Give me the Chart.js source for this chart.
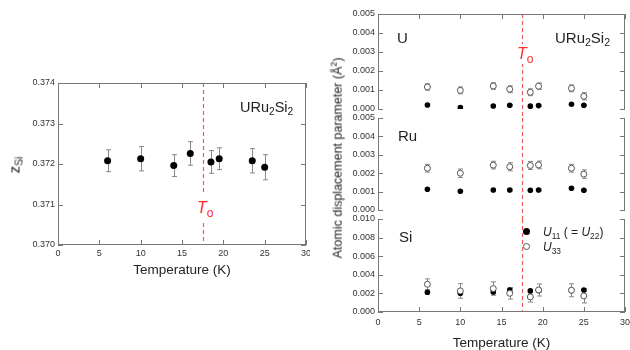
<!DOCTYPE html>
<html lang="en">
<head>
<meta charset="UTF-8">
<title>URu2Si2 structure vs temperature</title>
<script src="https://cdn.jsdelivr.net/npm/chart.js@4.4.0/dist/chart.umd.min.js"></script>
<style>
    body{
        margin: 0;
        padding: 0;
        background: #fff;
        font-family: 'Liberation Sans', Arial, sans-serif;
    }
    #wrap{
        position: relative;
        width: 630px;
        height: 350px;
        overflow: hidden;
    }
    canvas{
        position: absolute;
        top: 0;
    }
    .lbl{
        position: absolute;
        white-space: nowrap;
        color: #222;
        line-height: 1;
    }
    .lbl sub{
        font-size: 70%;
        vertical-align: -0.3em;
        line-height: 0;
    }
    .rot{
        transform: translate(-50%, -50%) rotate(-90deg);
    }
    .to{
        color: #ff2a2a;
        background: #fff;
        font-size: 16px;
        box-sizing: border-box;
    }
    .to sub{
        font-size: 75%;
    }
    .dot{
        position: absolute;
        width: 7px;
        height: 7px;
        border-radius: 50%;
        box-sizing: border-box;
    }
</style>
</head>
<body>
<div id="wrap">
    <canvas id="cL" width="310" height="350" style="left:0"></canvas>
    <canvas id="cU" width="310" height="350" style="left:320px"></canvas>
    <canvas id="cRu" width="310" height="350" style="left:320px"></canvas>
    <canvas id="cSi" width="310" height="350" style="left:320px"></canvas>

    <!-- left panel text -->
    <div class="lbl rot" style="left:14px;top:165px;font-size:15px">z<sub>Si</sub></div>
    <div class="lbl" style="left:240px;top:100px;font-size:14.5px">URu<sub>2</sub>Si<sub>2</sub></div>
    <div class="lbl to" style="left:189px;top:192px;width:30px;height:28px;padding:8px 0 0 8px"><i>T</i><sub>o</sub></div>

    <!-- right panel text -->
    <div class="lbl rot" style="left:337px;top:158px;font-size:12.5px">Atomic displacement parameter (Å<sup style="font-size:70%">2</sup>)</div>
    <div class="lbl" style="left:397px;top:30px;font-size:15px">U</div>
    <div class="lbl" style="left:555px;top:30px;font-size:15px">URu<sub>2</sub>Si<sub>2</sub></div>
    <div class="lbl" style="left:398px;top:128px;font-size:15px">Ru</div>
    <div class="lbl" style="left:399px;top:229px;font-size:15px">Si</div>
    <div class="lbl to" style="left:510px;top:44px;width:34px;height:20px;padding:2px 0 0 7px"><i>T</i><sub>o</sub></div>

    <!-- legend -->
    <div class="dot" style="left:523px;top:228px;background:#000"></div>
    <div class="dot" style="left:523px;top:243px;background:#fff;border:1px solid #555"></div>
    <div class="lbl" style="left:543px;top:226px;font-size:12px"><i>U</i><sub>11</sub> ( = <i>U</i><sub>22</sub>)</div>
    <div class="lbl" style="left:543px;top:241px;font-size:12px"><i>U</i><sub>33</sub></div>
</div>

<script>
    // measurement temperatures (K)
    const temps = [6, 10, 14, 16, 18.5, 19.5, 23.5, 25];
    const T_O = 17.5;

    // z parameter of Si
    const zSi    = [0.37208, 0.37213, 0.37196, 0.37226, 0.37205, 0.37213, 0.37208, 0.37192];
    const zSiErr = [0.00027, 0.00030, 0.00027, 0.00029, 0.00028, 0.00027, 0.00030, 0.00031];

    // U site
    const uU11    = [0.00021, 0.00007, 0.00016, 0.00020, 0.00015, 0.00018, 0.00025, 0.00020];
    const uU11Err = [0.00004, 0.00004, 0.00004, 0.00004, 0.00004, 0.00004, 0.00004, 0.00004];
    const uU33    = [0.00116, 0.00098, 0.00121, 0.00104, 0.00088, 0.00120, 0.00109, 0.00067];
    const uU33Err = [0.00017, 0.00018, 0.00017, 0.00018, 0.00018, 0.00017, 0.00018, 0.00019];

    // Ru site
    const ruU11    = [0.00113, 0.00102, 0.00109, 0.00109, 0.00107, 0.00109, 0.00118, 0.00107];
    const ruU11Err = [0.00005, 0.00005, 0.00005, 0.00005, 0.00005, 0.00005, 0.00005, 0.00005];
    const ruU33    = [0.00227, 0.00200, 0.00244, 0.00235, 0.00242, 0.00245, 0.00227, 0.00195];
    const ruU33Err = [0.00021, 0.00023, 0.00021, 0.00022, 0.00022, 0.00021, 0.00021, 0.00023];

    // Si site
    const siU11    = [0.00212, 0.00201, 0.00216, 0.00237, 0.00227, 0.00230, 0.00232, 0.00237];
    const siU11Err = [0.00015, 0.00015, 0.00015, 0.00015, 0.00015, 0.00015, 0.00015, 0.00015];
    const siU33    = [0.00298, 0.00227, 0.00252, 0.00201, 0.00162, 0.00237, 0.00234, 0.00173];
    const siU33Err = [0.00058, 0.00078, 0.00072, 0.00062, 0.00055, 0.00065, 0.00070, 0.00076];

    Chart.defaults.font.family = "'Liberation Sans', Arial, sans-serif";

    // vertical error bars, drawn under the markers
    const errorBars = {
        id: 'errorBars',
        beforeDatasetsDraw(chart) {
            const {ctx, scales: {x, y}} = chart;
            ctx.save();
            ctx.strokeStyle = '#888';
            ctx.lineWidth = 1;
            chart.data.datasets.forEach(ds => {
                if (!ds.errors) return;
                ds.data.forEach((p, i) => {
                    const e = ds.errors[i];
                    if (p.y == null || !e) return;
                    const px = Math.round(x.getPixelForValue(p.x)) + 0.5;
                    const y1 = y.getPixelForValue(p.y - e);
                    const y2 = y.getPixelForValue(p.y + e);
                    ctx.beginPath();
                    ctx.moveTo(px, y1); ctx.lineTo(px, y2);
                    ctx.moveTo(px - 2.5, y1); ctx.lineTo(px + 2.5, y1);
                    ctx.moveTo(px - 2.5, y2); ctx.lineTo(px + 2.5, y2);
                    ctx.stroke();
                });
            });
            ctx.restore();
        }
    };

    // dashed line at the transition temperature
    const toLine = {
        id: 'toLine',
        beforeDatasetsDraw(chart, args, opts) {
            const {ctx, chartArea: a, scales: {x}} = chart;
            const px = Math.round(x.getPixelForValue(T_O)) + 0.5;
            ctx.save();
            ctx.strokeStyle = '#f25a5a';
            ctx.lineWidth = 1.2;
            ctx.setLineDash([4, 3]);
            ctx.beginPath();
            ctx.moveTo(px, a.top);
            ctx.lineTo(px, a.bottom + (opts.extend || 0));
            ctx.stroke();
            ctx.restore();
        }
    };

    // box with inward ticks
    const frame = {
        id: 'frame',
        afterDraw(chart, args, opts) {
            const {ctx, chartArea: a, scales: {x, y}} = chart;
            const L = a.left + 0.5, R = a.right - 0.5, T = a.top + 0.5, B = a.bottom - 0.5;
            ctx.save();
            ctx.strokeStyle = '#777';
            ctx.lineWidth = 1;
            ctx.beginPath();
            ctx.moveTo(L, a.top); ctx.lineTo(L, a.bottom);
            ctx.moveTo(R, a.top); ctx.lineTo(R, a.bottom);
            if (opts.top) { ctx.moveTo(a.left, T); ctx.lineTo(a.right, T); }
            if (opts.bottom) { ctx.moveTo(a.left, B); ctx.lineTo(a.right, B); }
            y.ticks.forEach(t => {
                const py = Math.round(y.getPixelForValue(t.value)) + 0.5;
                ctx.moveTo(a.left, py); ctx.lineTo(a.left + 5, py);
                ctx.moveTo(a.right, py); ctx.lineTo(a.right - 5, py);
            });
            x.ticks.forEach(t => {
                const px = Math.round(x.getPixelForValue(t.value)) + 0.5;
                if (opts.top) { ctx.moveTo(px, a.top); ctx.lineTo(px, a.top + 5); }
                if (opts.bottom) { ctx.moveTo(px, a.bottom); ctx.lineTo(px, a.bottom - 5); }
            });
            ctx.stroke();
            ctx.restore();
        }
    };

    function filled(values, errors, r) {
        return {
            data: temps.map((t, i) => ({x: t, y: values[i]})),
            errors: errors,
            order: 1,
            pointRadius: r,
            pointBackgroundColor: '#000',
            pointBorderColor: '#000',
            pointBorderWidth: 0
        };
    }

    function open(values, errors) {
        return {
            data: temps.map((t, i) => ({x: t, y: values[i]})),
            errors: errors,
            order: 0,
            pointRadius: 3,
            pointBackgroundColor: '#fff',
            pointBorderColor: '#555',
            pointBorderWidth: 1
        };
    }

    function panel(id, o) {
        return new Chart(document.getElementById(id), {
            type: 'scatter',
            data: {datasets: o.sets},
            options: {
                responsive: false,
                animation: false,
                devicePixelRatio: 1,
                layout: {padding: o.pad},
                plugins: {
                    legend: {display: false},
                    tooltip: {enabled: false},
                    frame: {top: o.top, bottom: o.bottom},
                    toLine: {extend: o.extend}
                },
                scales: {
                    x: {
                        type: 'linear',
                        min: 0, max: 30,
                        display: o.xHeight > 0,
                        grid: {display: false, drawTicks: false},
                        border: {display: false},
                        ticks: {stepSize: 5, autoSkip: false, maxRotation: 0, padding: o.xPad,
                                color: '#333', font: {size: 9}},
                        title: {display: o.xHeight > 0, text: 'Temperature (K)', color: '#222',
                                font: {size: 13.5, lineHeight: 1}, padding: {top: 0, bottom: o.titlePad}},
                        afterFit(s) {
                            if (o.xHeight > 0) s.height = o.xHeight;
                            s.paddingLeft = 0;
                            s.paddingRight = 0;
                        }
                    },
                    y: {
                        min: o.ymin, max: o.ymax,
                        grid: {display: false, drawTicks: false},
                        border: {display: false},
                        ticks: {stepSize: o.step, padding: 3, color: '#333', font: {size: 9},
                                callback: v => v.toFixed(3)},
                        afterFit(s) {
                            s.width = 58;
                            s.paddingTop = 0;
                            s.paddingBottom = 0;
                        }
                    }
                }
            },
            plugins: [errorBars, toLine, frame]
        });
    }

    panel('cL', {
        sets: [filled(zSi, zSiErr, 3.5)],
        pad: {left: 0, top: 83, right: 3, bottom: 72},
        xHeight: 33, xPad: 3, titlePad: 1,
        ymin: 0.370, ymax: 0.374, step: 0.001,
        top: true, bottom: true, extend: 0
    });

    panel('cU', {
        sets: [open(uU33, uU33Err), filled(uU11, uU11Err, 2.8)],
        pad: {left: 0, top: 14, right: 4, bottom: 241},
        xHeight: 0,
        ymin: 0, ymax: 0.005, step: 0.001,
        top: true, bottom: false, extend: 9
    });

    panel('cRu', {
        sets: [open(ruU33, ruU33Err), filled(ruU11, ruU11Err, 2.8)],
        pad: {left: 0, top: 118, right: 4, bottom: 140},
        xHeight: 0,
        ymin: 0, ymax: 0.005, step: 0.001,
        top: false, bottom: false, extend: 9
    });

    panel('cSi', {
        sets: [open(siU33, siU33Err), filled(siU11, siU11Err, 2.8)],
        pad: {left: 0, top: 219, right: 4, bottom: 0},
        xHeight: 38, xPad: 5, titlePad: 0,
        ymin: 0, ymax: 0.010, step: 0.002,
        top: false, bottom: true, extend: 0
    });
</script>
</body>
</html>
